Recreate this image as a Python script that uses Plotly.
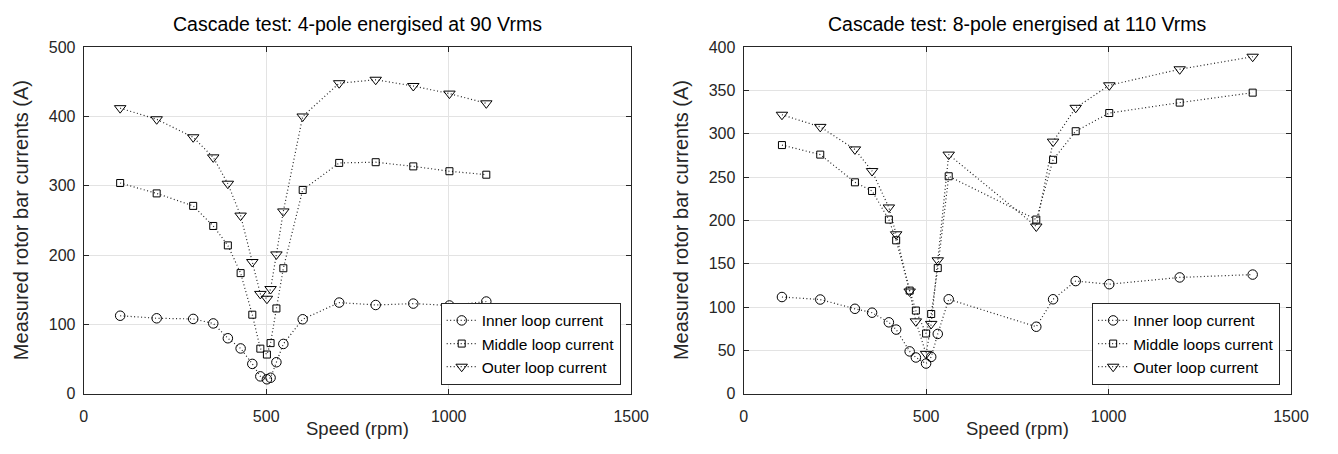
import plotly.graph_objects as go

# ---------------- data ----------------
speed_4pole = [100, 200, 300, 355, 395, 430, 462, 484, 502, 512, 528, 547, 600, 700, 800, 903, 1002, 1103]
inner_4pole = [112.5, 108.8, 107.9, 101.4, 80, 65.3, 43, 25, 20.8, 23, 45.4, 71.8, 107.4, 131.5, 128, 130, 127.3, 133]
middle_4pole = [304, 289, 271, 242, 214, 174, 114, 65, 56.5, 73, 123, 181, 294, 333, 334, 328, 321, 316]
outer_4pole = [412, 396, 370, 341, 303, 257, 190, 144, 137, 151, 201, 263, 400, 448, 453, 444, 433, 419]

speed_8pole = [105, 210, 305, 352, 398, 418, 455, 472, 500, 514, 532, 562, 802, 848, 910, 1002, 1195, 1395]
inner_8pole = [111.6, 108.7, 98, 93.5, 82.4, 74, 48.8, 41.8, 34.8, 42.5, 69, 109, 77.3, 109, 130, 126.4, 134.2, 137.5]
middle_8pole = [287, 276, 244, 234, 201, 177, 119, 96, 69.5, 92, 145, 251, 201, 270, 303, 324, 336, 347.5]
outer_8pole = [322, 308, 282, 257, 215, 184, 118, 83.5, 46, 80.6, 154, 276, 193, 291, 330, 356, 374.5, 389]

titles = ["Cascade test: 4-pole energised at 90 Vrms", "Cascade test: 8-pole energised at 110 Vrms"]
names_left = ["Inner loop current", "Middle loop current", "Outer loop current"]
names_right = ["Inner loop current", "Middle loops current", "Outer loop current"]
x_label = "Speed (rpm)"
y_label = "Measured rotor bar currents (A)"

# ---------------- layout geometry ----------------
W, H = 1338, 454
def px(x):
    return x / W
def py(y):
    return 1 - y / H

FONT = "Liberation Sans, Arial, Helvetica, sans-serif"
AX = "#262626"
GRID = "#e3e3e3"

symbols = ["circle-open", "square-open", "triangle-down-open"]
sizes = [9.5, 7, 10]

fig = go.Figure()

def add_series(xs, ys_list, names, xa, ya, legend):
    for ys, nm, sym, sz in zip(ys_list, names, symbols, sizes):
        fig.add_trace(go.Scatter(
            x=xs, y=ys, name=nm, mode="lines+markers",
            xaxis=xa, yaxis=ya, legend=legend,
            line=dict(color="#222222", width=1.2, dash="1px,2.5px"),
            marker=dict(symbol=sym, size=sz, color="black", line=dict(width=1, color="black")),
        ))

add_series(speed_4pole, [inner_4pole, middle_4pole, outer_4pole], names_left, "x", "y", "legend")
add_series(speed_8pole, [inner_8pole, middle_8pole, outer_8pole], names_right, "x2", "y2", "legend2")

axis_common = dict(
    showline=True, linecolor=AX, linewidth=1, mirror="ticks",
    ticks="inside", ticklen=5, tickcolor=AX, tickwidth=1,
    showgrid=True, gridcolor=GRID, gridwidth=1, zeroline=False,
    tickfont=dict(family=FONT, size=16, color=AX),
)
xaxis_extra = dict(ticklabelstandoff=8)
yaxis_extra = dict(ticklabelstandoff=4)

dom_y = [py(400.7), py(40.7)]
left_x = [81, 637.7]
right_x = [752, 1308.5]

legend_common = dict(xanchor="right", yanchor="bottom",
                     bgcolor="white", bordercolor=AX, borderwidth=1,
                     font=dict(family=FONT, size=15.5, color="black"),
                     tracegroupgap=0, itemwidth=30)

fig.update_layout(
    width=W, height=H, autosize=False,
    margin=dict(l=0, r=0, t=0, b=0),
    paper_bgcolor="white", plot_bgcolor="white",
    font=dict(family=FONT, color=AX),
    xaxis=dict(domain=[px(left_x[0]), px(left_x[1])], range=[0, 1500], dtick=500, anchor="y", **axis_common, **xaxis_extra),
    yaxis=dict(domain=dom_y, range=[0, 500], dtick=100, anchor="x", **axis_common, **yaxis_extra),
    xaxis2=dict(domain=[px(right_x[0]), px(right_x[1])], range=[0, 1500], dtick=500, anchor="y2", **axis_common, **xaxis_extra),
    yaxis2=dict(domain=dom_y, range=[0, 400], dtick=50, anchor="x2", **axis_common, **yaxis_extra),
    legend=dict(x=px(627), y=py(391.5), **legend_common),
    legend2=dict(x=px(1297.5), y=py(391.5), **legend_common),
    showlegend=True,
)

annotations = []
for (x0, x1), t in zip([left_x, right_x], titles):
    cx = (x0 + x1) / 2
    annotations.append(dict(text=t, x=px(cx), y=py(17), xref="paper", yref="paper",
                            xanchor="center", yanchor="middle", showarrow=False,
                            font=dict(family=FONT, size=19.5, color="black")))
    annotations.append(dict(text=x_label, x=px(cx), y=py(437), xref="paper", yref="paper",
                            xanchor="center", yanchor="middle", showarrow=False,
                            font=dict(family=FONT, size=18.5, color=AX)))
    annotations.append(dict(text=y_label, x=px(x0 - 63), y=py(220.7), xref="paper", yref="paper",
                            xanchor="center", yanchor="middle", showarrow=False, textangle=-90,
                            font=dict(family=FONT, size=20, color=AX)))
fig.update_layout(annotations=annotations)

fig.write_html("out.html")
